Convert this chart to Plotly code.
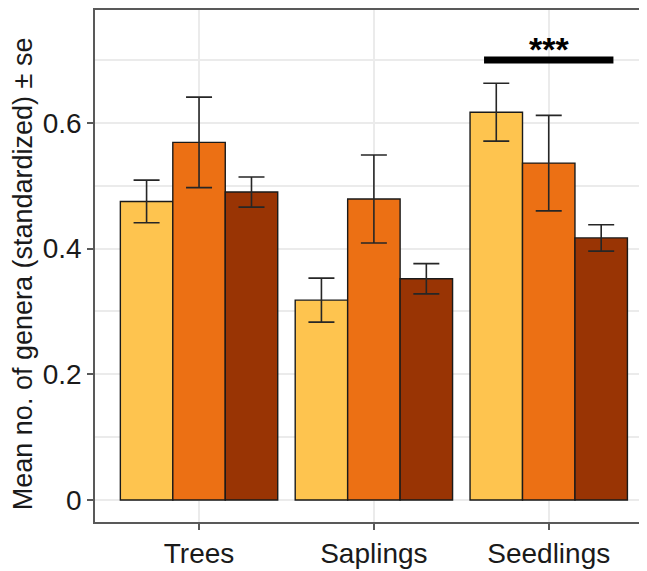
import plotly.graph_objects as go

categories = ["Trees", "Saplings", "Seedlings"]
series_names = ["Group A", "Group B", "Group C"]
means_a = [0.475, 0.318, 0.617]
means_b = [0.569, 0.479, 0.536]
means_c = [0.490, 0.352, 0.417]
se_a = [0.034, 0.035, 0.046]
se_b = [0.072, 0.070, 0.076]
se_c = [0.024, 0.024, 0.021]
colors = ["#FEC44F", "#EC7014", "#993404"]
y_ticks = [0, 0.2, 0.4, 0.6]
y_tick_labels = ["0", "0.2", "0.4", "0.6"]
sig_label = "***"
sig_from, sig_to, sig_y = 1.63, 2.37, 0.700

fig = go.Figure()
for name, m, s, c in zip(series_names, [means_a, means_b, means_c], [se_a, se_b, se_c], colors):
    fig.add_trace(go.Bar(
        x=categories, y=m, name=name,
        marker=dict(color=c, line=dict(color="#1a1a1a", width=1.4)),
        error_y=dict(type="data", array=s, visible=True, color="#262626", thickness=1.6, width=13),
    ))

fig.add_shape(type="line", xref="x", yref="y", x0=sig_from, x1=sig_to, y0=sig_y, y1=sig_y,
              line=dict(color="black", width=7))
fig.add_annotation(x=2, y=sig_y, xref="x", yref="y", text="<b>" + sig_label + "</b>",
                   showarrow=False, yanchor="bottom", yshift=-10,
                   font=dict(size=34, color="black", family="Liberation Sans"))

fig.add_annotation(x=-72 / 552, y=0.484, xref="paper", yref="paper",
                   text="Mean no. of genera (standardized) ± se", textangle=-90,
                   showarrow=False, xanchor="center", yanchor="middle",
                   font=dict(size=27, color="#1a1a1a", family="Liberation Sans"))

fig.update_layout(
    width=639, height=563,
    margin=dict(l=87, r=0, t=2, b=49),
    paper_bgcolor="white", plot_bgcolor="white",
    barmode="group", bargap=0.1, bargroupgap=0,
    showlegend=False,
    font=dict(family="Liberation Sans", size=28, color="#1a1a1a"),
    xaxis=dict(range=[-0.595, 2.562], showgrid=True, gridcolor="#EBEBEB", gridwidth=1.5,
               showline=True, mirror=True, linecolor="#595959", linewidth=1.5,
               ticks="outside", ticklen=6, tickcolor="#595959", tickwidth=1.5,
               tickfont=dict(size=28, color="#1a1a1a")),
    yaxis=dict(range=[-0.035, 0.7796], tickvals=y_ticks, ticktext=y_tick_labels,
               showgrid=True, gridcolor="#EBEBEB", gridwidth=1.5, zeroline=False,
               minor=dict(showgrid=True, tickvals=[0.1, 0.3, 0.5, 0.7], gridcolor="#EBEBEB", gridwidth=1.5),
               showline=True, mirror=False, linecolor="#595959", linewidth=1.5,
               ticks="outside", ticklen=6, tickcolor="#595959", tickwidth=1.5,
               tickfont=dict(size=28, color="#1a1a1a")),
)

fig.write_html("out.html")
